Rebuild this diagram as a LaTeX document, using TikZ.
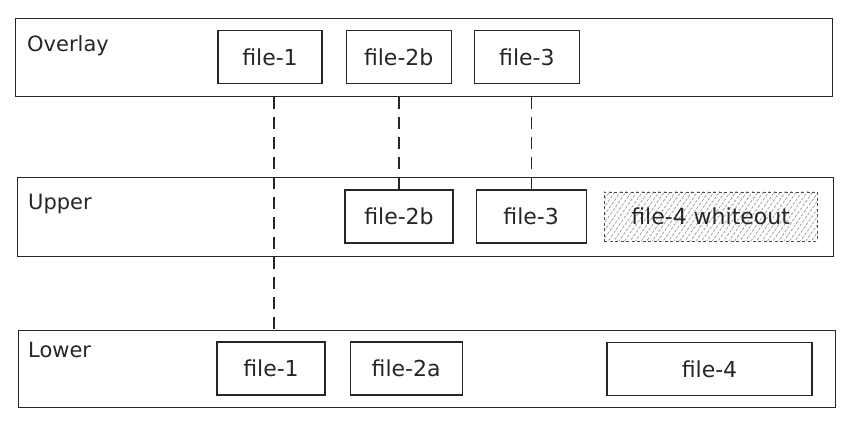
\documentclass[tikz,border=0pt]{standalone}
\usepackage{fontspec}
\setmainfont{DejaVu Sans}
\usetikzlibrary{positioning,patterns.meta}

\tikzset{
	ink/.style={draw=black!85, line width=1.2pt},
	layer/.style={ink, anchor=north west, inner sep=0pt},
	lbl/.style={anchor=base west, inner sep=0pt, text=black!85, font=\fontsize{21}{25}\selectfont},
	filebox/.style={ink, minimum height=53pt, inner sep=0pt, text=black!85, font=\fontsize{22}{26}\selectfont},
	whiteout/.style={filebox, draw=black!70, line width=0.9pt, dash pattern=on 3pt off 2.5pt,
		pattern={Lines[angle=55, distance=4.5pt, line width=0.7pt]}, pattern color=black!40},
	link/.style={ink, line width=1.1pt, dash pattern=on 12pt off 8pt},
	tie/.style={ink, line width=1.1pt}
}

\begin{document}
\begin{tikzpicture}[x=1pt, y=-1pt]
	\useasboundingbox (0,0) rectangle (855,427);

	\node[layer, minimum width=817pt, minimum height=78pt] (overlay) at (15,18) {};
	\node[layer, minimum width=816pt, minimum height=79pt] (upper) at (17,177) {};
	\node[layer, minimum width=817pt, minimum height=77pt] (lower) at (18,330) {};

	\node[lbl] (ovllbl) at (27,52) {Overlay};
	\node[lbl] (uplbl) at (28,210) {Upper};
	\node[lbl] (lowlbl) at (28,358) {Lower};

	\node[filebox, minimum width=104pt] (ovl1) at (270,57) {file-1};
	\node[filebox, minimum width=105pt, right=23pt of ovl1] (ovl2b) {file-2b};
	\node[filebox, minimum width=105pt, right=22pt of ovl2b] (ovl3) {file-3};

	\node[filebox, minimum width=108pt] (up2b) at (399,216.5) {file-2b};
	\node[filebox, minimum width=110pt, right=22pt of up2b] (up3) {file-3};
	\node[whiteout, minimum width=213pt, minimum height=49pt, right=17pt of up3] (upwo) {file-4 whiteout};

	\node[filebox, minimum width=108pt] (low1) at (271,368.5) {file-1};
	\node[filebox, minimum width=112pt, right=24pt of low1] (low2a) {file-2a};
	\node[filebox, minimum width=205pt] (low4) at (709.5,369) {file-4};

	\draw[link] ([xshift=4pt]ovl1.south |- overlay.south) -- ([xshift=4pt]ovl1.south |- lower.north);
	\draw[link] (up2b.north |- overlay.south) -- (up2b.north |- upper.north);
	\draw[tie] (up2b.north |- upper.north) -- (up2b.north);
	\draw[link] (up3.north |- overlay.south) -- (up3.north |- upper.north);
	\draw[tie] (up3.north |- upper.north) -- (up3.north);
\end{tikzpicture}
\end{document}
